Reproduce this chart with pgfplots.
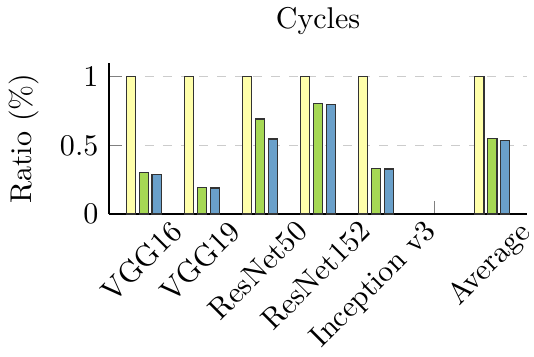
\documentclass[border=0pt]{standalone}
\usepackage{pgfplots}
\pgfplotsset{compat=1.18}
\definecolor{cyel}{RGB}{255,255,170}
\definecolor{cgrn}{RGB}{166,216,84}
\definecolor{cblu}{RGB}{106,160,202}
\begin{document}
\begin{tikzpicture}
\begin{axis}[
  name=ax,
  scale only axis,
  width=139.3pt, height=50.3pt,
  ybar=1.2pt, bar width=3.1pt,
  axis lines*=left,
  tick align=inside,
  xmin=-0.6, xmax=6.6,
  ymin=0, ymax=1.1,
  xtick={0,1,2,3,4,5,6},
  xticklabels={VGG16,VGG19,ResNet50,ResNet152,Inception v3,,Average},
  xticklabel style={rotate=45, xshift=2pt, yshift=3pt},
  ytick={0,0.5,1},
  yticklabels={0,0.5,1},
  tick style={gray},
  ymajorgrids, grid style={dashed, gray!40},
  ylabel={Ratio (\%)},
  title={Cycles},
  every axis plot/.append style={draw=black!80},
]
\addplot[fill=cyel] coordinates {(0,1) (1,1) (2,1) (3,1) (4,1) (6,1)};
\addplot[fill=cgrn] coordinates {(0,0.302) (1,0.196) (2,0.693) (3,0.807) (4,0.331) (6,0.553)};
\addplot[fill=cblu] coordinates {(0,0.290) (1,0.190) (2,0.546) (3,0.800) (4,0.328) (6,0.534)};
\end{axis}
\pgfresetboundingbox
\path[use as bounding box] ([shift={(-36.3pt,-47.3pt)}]ax.south west) rectangle ([shift={(2.3pt,21pt)}]ax.north east);
\end{tikzpicture}
\end{document}
